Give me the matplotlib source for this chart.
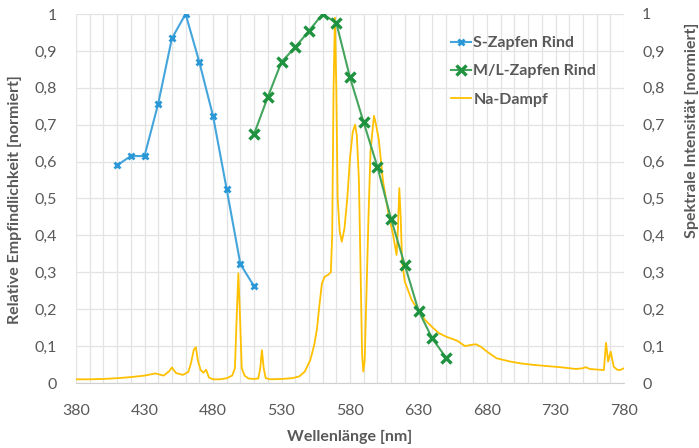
import matplotlib
matplotlib.use("Agg")
import matplotlib.pyplot as plt
from matplotlib.ticker import MultipleLocator

plt.rcParams["font.family"] = ["Lato", "DejaVu Sans"]

GRAY = "#595959"
GRID = "#E3E3E3"

# S-Zapfen (Rind): relative Empfindlichkeit
s_nm = [410, 420, 430, 440, 450, 460, 470, 480, 490, 500, 510]
s_val = [0.59, 0.615, 0.615, 0.757, 0.934, 1.0, 0.87, 0.724, 0.525, 0.322, 0.262]

# M/L-Zapfen (Rind): relative Empfindlichkeit
ml_nm = [510, 520, 530, 540, 550, 560, 570, 580, 590, 600, 610, 620, 630, 640, 650]
ml_val = [0.675, 0.775, 0.870, 0.910, 0.954, 1.0, 0.976, 0.828, 0.706, 0.586,
          0.444, 0.320, 0.196, 0.121, 0.069]

# Natriumdampflampe: spektrale Intensitaet
na_nm = [380, 390, 400, 410, 420, 430, 438, 444, 448, 450, 453, 458, 462, 464,
         466, 467.5, 469, 471, 473, 475, 477, 480, 485, 490, 494, 496, 497.5,
         498.5, 499.5, 501, 503, 506, 510, 513, 514.5, 515.7, 517, 518.5, 522,
         530, 538, 543, 547, 551, 554, 556, 557.5, 559.5, 561.5, 564, 566, 567,
         568, 569, 570, 571, 572.5, 574, 576, 578, 580, 582, 583.7, 585, 586.5,
         587.8, 588.8, 589.7, 590.7, 592, 593.5, 595, 597.5, 599, 601, 604, 608,
         611.5, 614, 615, 616, 617, 618, 620, 625, 630, 635, 641, 645, 650.5,
         658, 664, 668, 672, 676, 680, 687, 697, 705, 714, 733, 745, 750, 752,
         755, 765.3, 766.9, 768.4, 770.3, 772.5, 775, 777, 780]
na_val = [0.010, 0.010, 0.011, 0.013, 0.016, 0.020, 0.026, 0.020, 0.032, 0.042,
          0.027, 0.022, 0.030, 0.055, 0.090, 0.097, 0.060, 0.035, 0.028, 0.036,
          0.015, 0.010, 0.010, 0.013, 0.020, 0.040, 0.200, 0.297, 0.200, 0.040,
          0.020, 0.012, 0.011, 0.012, 0.040, 0.089, 0.040, 0.013, 0.010, 0.011,
          0.013, 0.018, 0.031, 0.062, 0.105, 0.150, 0.205, 0.270, 0.288, 0.293,
          0.300, 0.400, 0.800, 0.990, 0.800, 0.500, 0.410, 0.383, 0.420, 0.500,
          0.610, 0.680, 0.700, 0.670, 0.550, 0.290, 0.080, 0.031, 0.060, 0.240,
          0.450, 0.630, 0.724, 0.700, 0.660, 0.550, 0.460, 0.400, 0.347, 0.420,
          0.528, 0.450, 0.330, 0.275, 0.225, 0.196, 0.170, 0.148, 0.135, 0.125,
          0.115, 0.100, 0.103, 0.105, 0.097, 0.085, 0.067, 0.058, 0.053, 0.049,
          0.043, 0.038, 0.040, 0.043, 0.038, 0.035, 0.109, 0.058, 0.085, 0.044,
          0.036, 0.035, 0.040]

x_ticks = list(range(380, 781, 50))
y_ticks = [i / 10 for i in range(11)]
y_labels = ["0", "0,1", "0,2", "0,3", "0,4", "0,5", "0,6", "0,7", "0,8", "0,9", "1"]

fig = plt.figure(figsize=(6.99, 4.48), dpi=100)
W, H = 699, 448
ax = fig.add_axes([76 / W, 1 - 383 / H, 548 / W, 369 / H])

na_line, = ax.plot(na_nm, na_val, color="#FFC000", lw=1.3, zorder=2, label="Na-Dampf")
s_line, = ax.plot(s_nm, s_val, color="#43A5DC", lw=1.5, marker="x", ms=5,
                  mew=2, mec="#2A97D6", zorder=3, label="S-Zapfen Rind")
ml_line, = ax.plot(ml_nm, ml_val, color="#45A55E", lw=1.5, marker="x", ms=7,
                   mew=2.4, mec="#1F9240", zorder=4, label="M/L-Zapfen Rind")

ax.set_xlim(380, 780)
ax.set_ylim(0, 1)
ax.set_xticks(x_ticks)
ax.xaxis.set_minor_locator(MultipleLocator(10))
ax.set_yticks(y_ticks)
ax.set_yticklabels(y_labels)
ax.grid(which="both", color=GRID, lw=0.9)
ax.set_axisbelow(True)
for side in ["top", "left", "right"]:
    ax.spines[side].set_visible(False)
ax.spines["bottom"].set_color("#D0D0D0")
ax.tick_params(which="both", length=0, labelsize=11.5, labelcolor=GRAY)
ax.tick_params(axis="y", pad=14)
ax.tick_params(axis="x", pad=15)

ax2 = ax.twinx()
ax2.set_ylim(0, 1)
ax2.set_yticks(y_ticks)
ax2.set_yticklabels(y_labels)
for side in ax2.spines:
    ax2.spines[side].set_visible(False)
ax2.tick_params(length=0, labelsize=11.5, labelcolor=GRAY, pad=13)

label_kw = dict(fontsize=11.5, fontweight="bold", color=GRAY, ha="center", va="center")
fig.text(350 / W, 1 - 437 / H, "Wellenlänge [nm]", **label_kw)
fig.text(15 / W, 1 - 200 / H, "Relative Empfindlichkeit [normiert]", rotation=90, **label_kw)
fig.text(692 / W, 1 - 130 / H, "Spektrale Intensität [normiert]", rotation=90, **label_kw)

leg = ax2.legend([s_line, ml_line, na_line],
                 ["S-Zapfen Rind", "M/L-Zapfen Rind", "Na-Dampf"],
                 loc="upper left", bbox_to_anchor=(443 / W, 1 - 28 / H),
                 bbox_transform=fig.transFigure, frameon=False, borderpad=0,
                 handlelength=1.25, handletextpad=0.15, labelspacing=0.88,
                 numpoints=1, prop=dict(size=11.5, weight="bold"))
for t in leg.get_texts():
    t.set_color(GRAY)

fig.savefig("out.png", dpi=100)
